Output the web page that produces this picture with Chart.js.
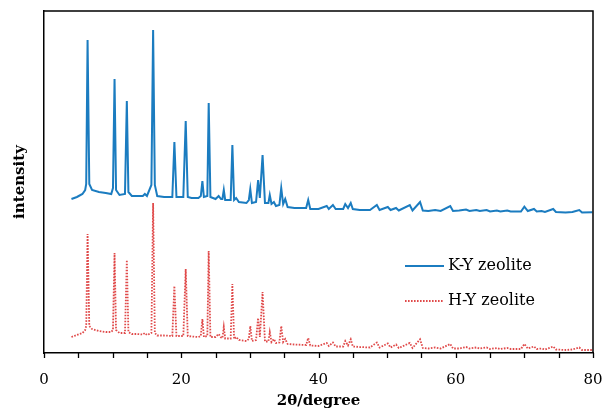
<!DOCTYPE html>
<html lang="en">

<head>
    <meta charset="UTF-8">
    <title>XRD - K-Y / H-Y zeolite</title>
    <script src="https://cdn.jsdelivr.net/npm/chart.js"></script>
    <style>
        body { margin: 0; background: #fff; }
        #grafico { width: 602px; height: 410px; }
    </style>
</head>

<body>
    <div id="grafico"><canvas id="xrdCanvas" width="602" height="410"></canvas></div>
</body>

</html>
<script>
    // 2theta positions (deg) shared by both patterns
    const twoTheta = [4.0, 4.8, 5.6, 6.0, 6.15, 6.35, 6.6, 7.0, 8.0, 9.0, 9.8, 10.05, 10.28, 10.5, 11.0, 11.8, 12.07, 12.3, 12.8, 13.5,
        14.4, 14.7, 15.0, 15.65, 15.9, 16.15, 16.5, 17.5, 18.7, 19.0, 19.3, 20.3, 20.65, 20.95, 21.5, 22.5, 22.85, 23.08, 23.3, 23.8,
        24.0, 24.25, 25.0, 25.45, 25.8, 26.0, 26.2, 26.4, 27.2, 27.45, 27.7, 28.0, 28.4, 29.5, 29.85, 30.06, 30.3, 30.9, 31.2, 31.45,
        31.85, 32.2, 32.7, 32.9, 33.15, 33.5, 33.8, 34.3, 34.57, 34.85, 35.15, 35.5, 36.5, 38.2, 38.5, 38.8, 40.0, 41.2, 41.5, 42.1,
        42.5, 43.6, 43.9, 44.3, 44.7, 45.0, 46.0, 47.5, 48.5, 48.9, 50.1, 50.5, 51.3, 51.7, 53.3, 53.7, 54.8, 55.2, 56.0, 57.0,
        57.8, 59.2, 59.6, 60.5, 61.5, 62.0, 63.0, 63.5, 64.5, 65.0, 66.0, 66.5, 67.5, 68.0, 69.5, 70.0, 70.5, 71.4, 71.8, 72.5,
        73.0, 74.2, 74.6, 76.0, 77.0, 78.0, 78.4, 79.9];

    // intensity (a.u., curves already offset as in the figure)
    const kyIntensity = [153, 155, 158, 162, 168, 312, 168, 162, 160, 159, 158, 164, 273, 162, 157, 158, 251, 160, 156, 156,
        156, 158, 156, 167, 322, 167, 156, 155, 155, 210, 155, 155, 231, 155, 154, 154, 156, 171, 155, 156,
        249, 155, 153, 156, 153, 153, 162, 152, 152, 207, 152, 154, 150, 149, 152, 163, 149, 150, 172, 154,
        197, 149, 149, 157, 148, 150, 146, 147, 164, 148, 153, 145, 144, 144, 152, 143, 143, 146, 143, 147,
        143, 143, 148, 144, 149, 143, 142, 142, 147, 142, 145, 142, 144, 141.5, 147, 141.5, 150, 141.5, 141, 142,
        141, 146, 141, 141.5, 142.5, 141, 142, 141, 142, 140.5, 141.5, 140.5, 141.5, 140.5, 140.5, 145.3, 141, 143, 140.5, 141,
        140, 143, 140, 139.5, 140, 142, 139.5, 139.7];

    const hyIntensity = [15, 17, 19, 22, 26, 118, 26, 23, 21, 20, 20, 22, 99, 22, 19, 19, 92, 20, 18, 18,
        17.5, 19, 17, 19, 149, 19, 16.5, 16.5, 16, 66, 16, 16, 83, 16, 15.5, 15, 16, 33, 15, 16,
        101, 15, 15, 18, 14.5, 14, 25, 13.5, 13.5, 68, 13, 15, 12, 11, 13, 26, 11, 12, 34, 15,
        60, 10.5, 10.5, 20, 10, 13, 9, 9.5, 26, 10, 13, 8, 7.5, 7, 14, 6.5, 6, 9, 6, 9.5,
        5.5, 5.5, 11, 6.5, 12.7, 5.5, 5, 4.5, 9.5, 4.5, 8.5, 4.5, 7.5, 4, 9, 4, 12.7, 4, 3.5, 4.5,
        3.5, 8, 3.5, 3.5, 5, 3.5, 4.5, 3.5, 4.5, 3, 4, 3, 4, 3, 3, 8, 3.5, 5.5, 3, 3.5,
        2.5, 5.5, 2.5, 2, 2.5, 4.5, 2, 2];

    const seriesNames = ['K-Y zeolite', 'H-Y zeolite'];
    const xTickLabels = [0, 20, 40, 60, 80];

    const azul = '#1b7cc0';
    const vermelho = '#e04a4a';
    const fonte = "'DejaVu Serif', serif";

    function pontos(ys) {
        return twoTheta.map((t, i) => ({ x: t, y: ys[i] }));
    }

    // frame on top/right, minor ticks and legend inside the plot
    const molduraLegenda = {
        id: 'molduraLegenda',
        afterDraw(chart) {
            const { ctx, chartArea: a } = chart;
            const sx = chart.scales.x;
            ctx.save();
            ctx.strokeStyle = '#000';
            ctx.lineWidth = 1.5;
            ctx.beginPath();
            ctx.moveTo(a.left, a.top);
            ctx.lineTo(a.right, a.top);
            ctx.lineTo(a.right, a.bottom);
            ctx.stroke();

            // tick marks every 5 deg, below the axis
            ctx.lineWidth = 1.3;
            sx.ticks.forEach(t => {
                const px = Math.round(sx.getPixelForValue(t.value)) + 0.5;
                ctx.beginPath();
                ctx.moveTo(px, a.bottom);
                ctx.lineTo(px, a.bottom + 5);
                ctx.stroke();
            });

            const itens = [
                { cor: azul, dash: [], w: 1.8, y: 266 },
                { cor: vermelho, dash: [1.6, 1.4], w: 1.8, y: 301 }
            ];
            ctx.font = '16px ' + fonte;
            ctx.textBaseline = 'middle';
            itens.forEach((it, i) => {
                ctx.strokeStyle = it.cor;
                ctx.lineWidth = it.w;
                ctx.setLineDash(it.dash);
                ctx.beginPath();
                ctx.moveTo(405, it.y);
                ctx.lineTo(444, it.y);
                ctx.stroke();
                ctx.setLineDash([]);
                ctx.fillStyle = '#000';
                ctx.fillText(seriesNames[i], 448, it.y);
            });
            ctx.restore();
        }
    };

    const dados = {
        datasets: [{
            label: seriesNames[0],
            data: pontos(kyIntensity),
            borderColor: azul,
            borderWidth: 2,
            pointRadius: 0,
            tension: 0
        }, {
            label: seriesNames[1],
            data: pontos(hyIntensity),
            borderColor: vermelho,
            borderWidth: 1.8,
            borderDash: [1.6, 1.4],
            pointRadius: 0,
            tension: 0
        }]
    };

    const config = {
        type: 'line',
        data: dados,
        options: {
            responsive: false,
            animation: false,
            layout: { padding: { top: 11, right: 9, left: 0, bottom: 0 } },
            plugins: { legend: { display: false }, tooltip: { enabled: false } },
            scales: {
                x: {
                    type: 'linear',
                    min: 0,
                    max: 80,
                    afterFit: s => { s.height = 57; s.paddingLeft = 0; s.paddingRight = 0; },
                    ticks: {
                        stepSize: 5,
                        padding: 10,
                        autoSkip: false,
                        color: '#000',
                        font: { family: fonte, size: 15 },
                        maxRotation: 0,
                        callback: v => xTickLabels.includes(v) ? v : ''
                    },
                    grid: { display: false },
                    border: { color: '#000', width: 1.5 },
                    title: {
                        display: true,
                        text: '2θ/degree',
                        color: '#000',
                        font: { family: fonte, size: 15, weight: 'bold' },
                        padding: { top: 4, bottom: 0 }
                    }
                },
                y: {
                    min: -1,
                    max: 341,
                    afterFit: s => { s.width = 44; },
                    ticks: { display: false },
                    grid: { display: false },
                    border: { color: '#000', width: 1.5 },
                    title: {
                        display: true,
                        text: 'intensity',
                        color: '#000',
                        font: { family: fonte, size: 15, weight: 'bold' },
                        padding: { top: 11, bottom: 0 }
                    }
                }
            }
        },
        plugins: [molduraLegenda]
    };

    new Chart(document.getElementById('xrdCanvas'), config);
</script>
